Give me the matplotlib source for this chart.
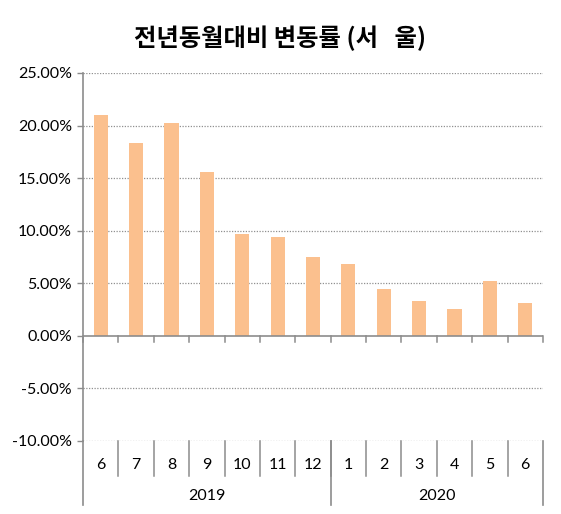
import matplotlib.pyplot as plt
import numpy as np

months = ['6', '7', '8', '9', '10', '11', '12', '1', '2', '3', '4', '5', '6']
years = ['2019', '2020']
year_counts = [7, 6]
values = [21.0, 18.3, 20.2, 15.6, 9.7, 9.4, 7.5, 6.8, 4.5, 3.3, 2.6, 5.2, 3.1]
yticks = [-10, -5, 0, 5, 10, 15, 20, 25]

lab_font = ['Lato', 'DejaVu Sans']
axis_gray = '#8c8c8c'

fig = plt.figure(figsize=(5.61, 5.14), dpi=100)
ax = fig.add_axes([83 / 561, 1 - 441 / 514, 460 / 561, 368 / 514])

x = np.arange(len(values))
ax.bar(x, values, width=0.4, color='#fbc08e', zorder=3)

ax.set_xlim(-0.5, len(values) - 0.5)
ax.set_ylim(-10, 25)
ax.set_yticks(yticks)
ax.set_yticklabels([f'{v:.2f}%' for v in yticks], fontsize=11.5, family=lab_font)
ax.tick_params(axis='y', length=4, color=axis_gray, width=1, pad=4)
for v in yticks:
    if v != 0:
        ax.axhline(v, color='#909090', lw=0.9, ls=(0, (1, 1.2)), zorder=1)
ax.axhline(0, color=axis_gray, lw=1.2, zorder=4)

ax.set_xticks([])
for s in ['top', 'right', 'bottom']:
    ax.spines[s].set_visible(False)
ax.spines['left'].set_color(axis_gray)
ax.spines['left'].set_linewidth(1.2)

trans = ax.get_xaxis_transform()
# ticks below zero line
for b in np.arange(len(values) + 1) - 0.5:
    ax.plot([b, b], [0, -0.6], color=axis_gray, lw=1.1, clip_on=False, zorder=4)

# month row
for i, m in enumerate(months):
    ax.text(i, -0.065, m, transform=trans, ha='center', va='center', fontsize=11.5, family=lab_font)
for b in np.arange(1, len(values)) - 0.5:
    ax.plot([b, b], [0, -0.095], transform=trans, color=axis_gray, lw=1.1, clip_on=False)

# year row
start = 0
bounds = [-0.5]
for y, n in zip(years, year_counts):
    ax.text(start + (n - 1) / 2, -0.15, y, transform=trans, ha='center', va='center', fontsize=11.5, family=lab_font)
    start += n
    bounds.append(start - 0.5)
for b in bounds:
    ax.plot([b, b], [0, -0.175], transform=trans, color=axis_gray, lw=1.2, clip_on=False)

fig.text(0.5, 1 - 38 / 514, '전년동월대비 변동률 (서   울)', ha='center', va='center',
         fontsize=17.5, fontweight='bold', family=['Noto Sans CJK KR', 'DejaVu Sans'])

fig.savefig('out.png', dpi=100)
